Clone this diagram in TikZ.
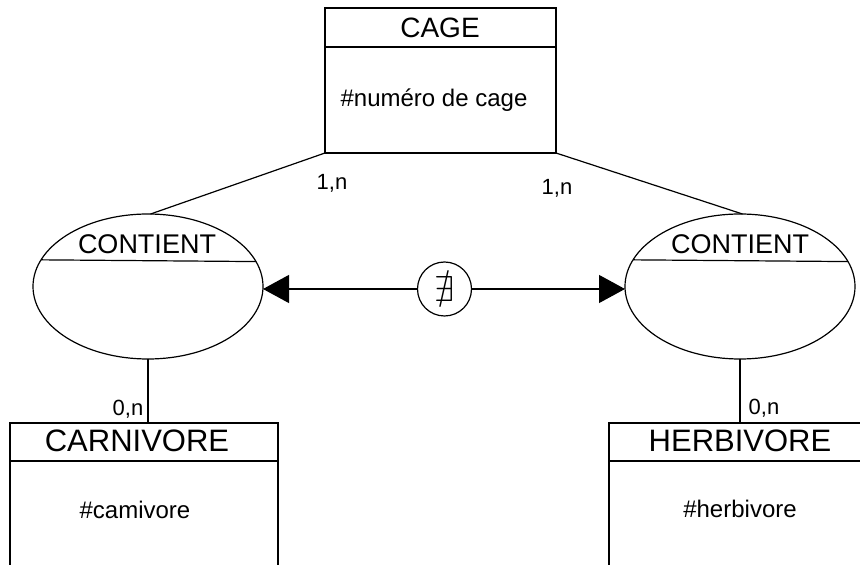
\documentclass[tikz,border=0pt]{standalone}
\usepackage{fontspec}
\setmainfont{Liberation Sans}
\usepackage{amssymb}
\usetikzlibrary{shapes.geometric}
\usetikzlibrary{arrows.meta}
\usetikzlibrary{calc}
\newcommand{\txtsize}{\fontsize{22}{24}\selectfont}
\newcommand{\attsize}{\fontsize{24}{26}\selectfont}
\newcommand{\ttlsize}{\fontsize{28}{30}\selectfont}

\begin{document}
\begin{tikzpicture}[x=1pt,y=1pt,line width=1.2pt,
  entity/.style={draw,rectangle,inner sep=0pt,outer sep=0pt},
  assoc/.style={draw,ellipse,inner sep=0pt,outer sep=0pt,minimum width=230pt,minimum height=145pt},
  ttl/.style={inner sep=0pt,font=\ttlsize},
  txt/.style={inner sep=0pt,font=\txtsize},
  att/.style={inner sep=0pt,font=\attsize},
  tip/.style={-{Triangle[length=26pt,width=28pt]}}]
\clip (0,0) rectangle (860,565);
\fill[white] (0,0) rectangle (860,565);
\node[entity,minimum width=231pt,minimum height=145pt] (cage) at (440.5,484.5) {};
\node[entity,minimum width=268pt,minimum height=180pt] (carn) at (144,52) {};
\node[entity,minimum width=271pt,minimum height=180pt] (herb) at (744.5,52) {};
\node[assoc] (cl) at (148,278.5) {};
\node[assoc] (cr) at (740,278.5) {};
\node[draw,circle,inner sep=0pt,minimum size=54pt] (neq) at (444.5,276) {\fontsize{36}{38}\selectfont$\nexists$};
\draw ($(cage.north west)+(0,-39)$) -- ($(cage.north east)+(0,-39)$);
\draw ($(carn.north west)+(0,-38)$) -- ($(carn.north east)+(0,-38)$);
\draw ($(herb.north west)+(0,-38)$) -- ($(herb.north east)+(0,-38)$);
\foreach \e in {cl,cr} {
  \draw (\e.13.3) -- (\e.166.7);
}
\node[ttl] (cagettl) at (440,537) {CAGE};
\node[att] (cageid) at (434,465) {\#numéro de cage};
\node[ttl,font=\fontsize{27}{29}\selectfont] (clttl) at (147,320.5) {CONTIENT};
\node[ttl,font=\fontsize{27}{29}\selectfont] (crttl) at (740,321) {CONTIENT};
\node[ttl,font=\fontsize{31}{33}\selectfont] (carnttl) at (137,124) {CARNIVORE};
\node[ttl,font=\fontsize{31}{33}\selectfont] (herbttl) at (740,124) {HERBIVORE};
\node[att] (carnid) at (135,55) {\#camivore};
\node[att] (herbid) at (740,56) {\#herbivore};
\draw (cage.south west) -- (cl.88);
\draw (cage.south east) -- (cr.88);
\draw (cl.south) -- (cl.south |- carn.north);
\draw (cr.south) -- (cr.south |- herb.north);
\draw[tip] (neq.west) -- (neq.west -| cl.east);
\draw[tip] (neq.east) -- (neq.east -| cr.west);
\node[txt] (c1) at (332,382) {1,n};
\node[txt] (c2) at (557,377) {1,n};
\node[txt] (c3) at (128,156) {0,n};
\node[txt] (c4) at (764,157) {0,n};
\end{tikzpicture}
\end{document}
